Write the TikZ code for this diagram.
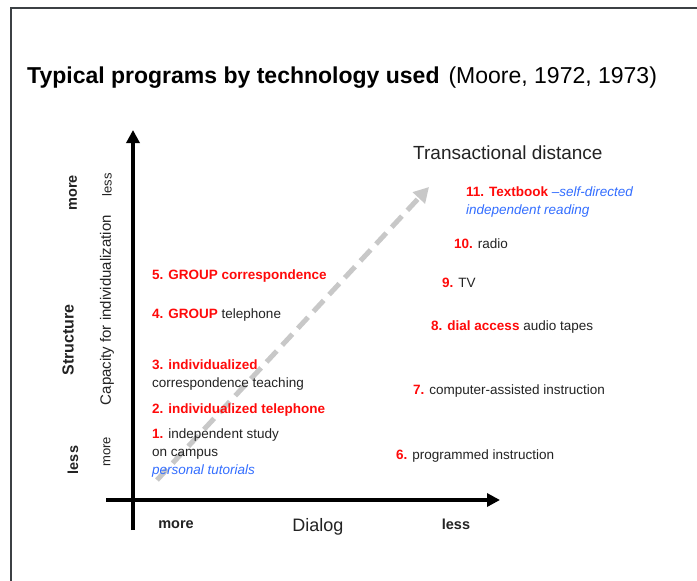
\documentclass[tikz,border=0pt]{standalone}
\usepackage{fontspec}
\setmainfont{Liberation Sans}
\usetikzlibrary{arrows.meta}
\definecolor{hired}{RGB}{255,10,10}
\definecolor{noteblue}{RGB}{51,110,255}
\definecolor{ink}{RGB}{35,35,35}
\definecolor{framegray}{RGB}{60,64,68}
\definecolor{trend}{RGB}{200,200,200}
\newcommand{\num}[1]{\textcolor{hired}{\bfseries #1}}
\newcommand{\note}[1]{\textcolor{noteblue}{\itshape #1}}

\begin{document}
\begin{tikzpicture}[x=1pt,y=-1pt,
  item/.style={anchor=west, inner sep=0pt, font=\fontsize{13.5}{18}\selectfont, text=ink, align=left},
  itemblock/.style={item, anchor=north west},
  axislabel/.style={inner sep=0pt, font=\fontsize{15}{18}\selectfont, text=ink},
  sidelabel/.style={inner sep=0pt, rotate=90, font=\fontsize{14.5}{18}\selectfont, text=ink},
  axisline/.style={line width=4pt, -{Triangle[length=13pt,width=13pt]}},
  trendline/.style={trend, line width=5pt, dash pattern=on 15pt off 8pt,
    -{Triangle[length=15pt,width=16pt]}}
]
\useasboundingbox (0,0) rectangle (697,581);
\fill[white] (0,0) rectangle (697,581);

% slide frame (left and top edges)
\coordinate (fbl) at (11,581);
\coordinate (ftl) at (11,8);
\coordinate (ftr) at (697,8);
\draw[framegray, line width=1.5pt] (fbl) -- (ftl) -- (ftr);

% title
\node[anchor=west, inner sep=0pt, text=black] (title) at (27,78)
  {\fontsize{23}{27}\selectfont\bfseries Typical programs by technology used\hspace{9pt}\mdseries (Moore, 1972, 1973)};

% axes
\coordinate (ybot) at (133,530);
\coordinate (ytop) at (133,130);
\coordinate (xleft) at (106,500);
\coordinate (xright) at (500,500);
\draw[axisline] (ybot) -- (ytop);
\draw[axisline] (xleft) -- (xright);

% horizontal axis labels
\node[axislabel, font=\fontsize{14.5}{18}\selectfont\bfseries] (dmore) at (176,525) {more};
\node[axislabel, font=\fontsize{18}{20}\selectfont] (dialog) at (318,527) {Dialog};
\node[axislabel, font=\fontsize{14.5}{18}\selectfont\bfseries] (dless) at (456,524) {less};

% vertical axis labels
\node[sidelabel, font=\fontsize{14.5}{18}\selectfont\bfseries] (smore) at (73,193) {more};
\node[sidelabel, font=\fontsize{16}{18}\selectfont\bfseries] (structure) at (68,340) {Structure};
\node[sidelabel, font=\fontsize{14.5}{18}\selectfont\bfseries] (sless) at (73,460) {less};
\node[sidelabel, font=\fontsize{13}{18}\selectfont] (cless) at (107,185) {less};
\node[sidelabel, font=\fontsize{15}{18}\selectfont] (capacity) at (107,310) {Capacity for individualization};
\node[sidelabel, font=\fontsize{13}{18}\selectfont] (cmore) at (107,452) {more};

% trend of transactional distance
\coordinate (tstart) at (157,480);
\coordinate (tend) at (429,187);
\draw[trendline] (tstart) -- (tend);
\node[anchor=west, inner sep=0pt, font=\fontsize{19}{22}\selectfont, text=ink] (tdist) at (413,153) {Transactional distance};

% programs with low transactional distance
\node[item] (p5) at (152,276) {\num{5. GROUP correspondence}};
\node[item] (p4) at (152,315) {\num{4. GROUP} telephone};
\node[itemblock] (p3) at (152,360) {\num{3. individualized}\\correspondence teaching};
\node[item] (p2) at (152,410) {\num{2. individualized telephone}};
\node[itemblock] (p1) at (152,429) {\num{1.} independent study\\on campus\\\note{personal tutorials}};

% programs with high transactional distance
\node[itemblock] (p11) at (466,187) {\num{11. Textbook} \note{--self-directed}\\\note{independent reading}};
\node[item] (p10) at (454,244) {\num{10.} radio};
\node[item] (p9) at (442,283) {\num{9.} TV};
\node[item] (p8) at (431,327) {\num{8. dial access} audio tapes};
\node[item] (p7) at (413,391) {\num{7.} computer-assisted instruction};
\node[item] (p6) at (396,456) {\num{6.} programmed instruction};
\end{tikzpicture}
\end{document}
